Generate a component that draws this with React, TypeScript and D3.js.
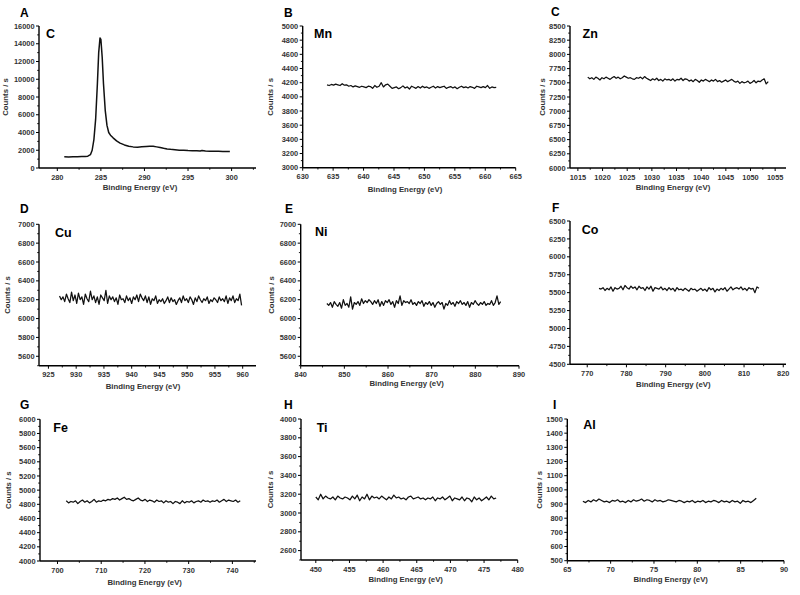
import React from "react";
import * as d3 from "d3";

// ---------- DATA ----------
const panelLetters = ["A", "B", "C", "D", "E", "F", "G", "H", "I"];
const elements = ["C", "Mn", "Zn", "Cu", "Ni", "Co", "Fe", "Ti", "Al"];

// Panel A (C 1s) – explicit energies and counts
const cEnergy = [280.8, 281.3, 281.8, 282.3, 282.8, 283.2, 283.5, 283.8, 284.0, 284.2, 284.4, 284.6, 284.75, 284.9, 285.0, 285.15, 285.3, 285.5, 285.7, 285.9, 286.1, 286.4, 286.8, 287.2, 287.7, 288.2, 288.7, 289.2, 289.7, 290.2, 290.6, 291.0, 291.4, 291.8, 292.2, 292.6, 293.0, 293.5, 294.0, 294.5, 295.0, 295.5, 296.0, 296.4, 296.6, 297.0, 297.5, 298.0, 298.5, 299.0, 299.4, 299.8];
const cCounts = [1260, 1250, 1280, 1270, 1290, 1300, 1330, 1500, 2000, 3200, 5500, 9500, 13000, 14650, 14500, 12500, 9500, 6500, 4800, 4000, 3700, 3400, 3050, 2800, 2600, 2450, 2380, 2350, 2390, 2430, 2460, 2440, 2380, 2300, 2220, 2150, 2100, 2050, 2010, 1990, 1960, 1950, 1930, 1920, 1980, 1910, 1900, 1890, 1880, 1870, 1860, 1850];

// Other panels – counts sampled evenly between the first and last energy
const mnRange = [634, 661.8];
const mnCounts = [4170, 4160, 4175, 4165, 4180, 4170, 4160, 4185, 4165, 4170, 4150, 4160, 4140, 4155, 4145, 4135, 4150, 4140, 4130, 4150, 4145, 4120, 4160, 4135, 4150, 4200, 4140, 4170, 4180, 4150, 4120, 4130, 4140, 4115, 4130, 4155, 4125, 4140, 4110, 4150, 4135, 4120, 4145, 4125, 4150, 4130, 4140, 4120, 4135, 4150, 4125, 4145, 4130, 4140, 4150, 4120, 4135, 4145, 4125, 4140, 4115, 4135, 4150, 4130, 4140, 4125, 4145, 4135, 4120, 4150, 4140, 4130, 4145, 4130, 4160, 4120, 4140, 4130, 4135];

const znRange = [1017, 1053.6];
const znCounts = [7600, 7570, 7590, 7560, 7600, 7580, 7550, 7590, 7570, 7600, 7580, 7560, 7590, 7610, 7580, 7600, 7570, 7590, 7620, 7600, 7580, 7590, 7570, 7560, 7590, 7580, 7600, 7570, 7610, 7580, 7560, 7540, 7570, 7550, 7580, 7540, 7560, 7530, 7570, 7550, 7560, 7540, 7570, 7530, 7560, 7550, 7580, 7540, 7570, 7560, 7530, 7550, 7520, 7560, 7540, 7510, 7550, 7530, 7560, 7540, 7520, 7550, 7530, 7560, 7520, 7540, 7510, 7530, 7550, 7520, 7540, 7560, 7530, 7510, 7530, 7490, 7520, 7500, 7510, 7530, 7490, 7510, 7540, 7500, 7530, 7520, 7550, 7570, 7480, 7520];

const cuRange = [927, 959.8];
const cuCounts = [6240, 6200, 6230, 6180, 6260, 6210, 6170, 6280, 6190, 6250, 6160, 6270, 6200, 6230, 6150, 6260, 6210, 6180, 6290, 6200, 6240, 6170, 6230, 6150, 6250, 6220, 6190, 6300, 6160, 6240, 6200, 6230, 6180, 6220, 6150, 6250, 6200, 6210, 6170, 6240, 6190, 6220, 6160, 6230, 6200, 6250, 6180, 6260, 6220, 6190, 6240, 6170, 6230, 6150, 6210, 6190, 6240, 6160, 6200, 6180, 6210, 6160, 6190, 6230, 6170, 6220, 6180, 6200, 6150, 6190, 6220, 6170, 6240, 6190, 6210, 6170, 6230, 6200, 6150, 6220, 6180, 6240, 6200, 6170, 6210, 6190, 6230, 6160, 6200, 6180, 6220, 6200, 6170, 6230, 6190, 6210, 6180, 6240, 6160, 6220, 6190, 6240, 6170, 6210, 6190, 6260, 6140];

const niRange = [846, 885.8];
const niCounts = [6160, 6140, 6170, 6120, 6180, 6150, 6130, 6170, 6110, 6200, 6140, 6160, 6120, 6230, 6100, 6170, 6150, 6180, 6140, 6210, 6160, 6190, 6170, 6200, 6180, 6150, 6190, 6160, 6200, 6130, 6180, 6140, 6190, 6170, 6200, 6150, 6180, 6120, 6190, 6160, 6240, 6140, 6190, 6170, 6180, 6160, 6200, 6150, 6170, 6140, 6180, 6160, 6190, 6130, 6170, 6150, 6180, 6140, 6170, 6120, 6160, 6180, 6150, 6170, 6100, 6160, 6140, 6190, 6150, 6170, 6130, 6180, 6160, 6190, 6150, 6170, 6140, 6180, 6120, 6170, 6150, 6190, 6160, 6140, 6170, 6150, 6180, 6140, 6160, 6150, 6190, 6140, 6170, 6240, 6150, 6180];

const coRange = [773, 813.8];
const coCounts = [5560, 5550, 5570, 5530, 5560, 5540, 5580, 5520, 5570, 5550, 5560, 5590, 5540, 5600, 5570, 5550, 5590, 5560, 5580, 5540, 5590, 5560, 5570, 5530, 5580, 5550, 5590, 5520, 5570, 5560, 5550, 5580, 5540, 5560, 5530, 5570, 5540, 5560, 5520, 5570, 5540, 5550, 5530, 5560, 5540, 5520, 5560, 5540, 5550, 5520, 5540, 5560, 5530, 5550, 5520, 5570, 5540, 5560, 5510, 5550, 5530, 5560, 5540, 5570, 5520, 5550, 5580, 5540, 5560, 5570, 5550, 5580, 5540, 5560, 5530, 5570, 5550, 5560, 5500, 5580, 5560];

const feRange = [702, 741.8];
const feCounts = [4850, 4820, 4840, 4830, 4850, 4810, 4840, 4860, 4830, 4850, 4820, 4840, 4870, 4830, 4850, 4840, 4860, 4850, 4870, 4860, 4880, 4870, 4890, 4860, 4880, 4900, 4870, 4880, 4860, 4850, 4870, 4890, 4860, 4850, 4870, 4840, 4860, 4850, 4830, 4860, 4840, 4850, 4820, 4850, 4830, 4840, 4810, 4840, 4830, 4810, 4850, 4820, 4840, 4830, 4850, 4820, 4840, 4850, 4830, 4860, 4840, 4850, 4830, 4850, 4840, 4860, 4830, 4850, 4870, 4840, 4860, 4850, 4840, 4860, 4830, 4850];

const tiRange = [450, 476.8];
const tiCounts = [3170, 3140, 3200, 3150, 3180, 3160, 3150, 3170, 3140, 3180, 3160, 3150, 3170, 3160, 3140, 3180, 3150, 3190, 3130, 3170, 3150, 3200, 3140, 3180, 3160, 3170, 3150, 3180, 3160, 3140, 3170, 3150, 3190, 3160, 3170, 3150, 3160, 3140, 3170, 3180, 3150, 3160, 3170, 3150, 3160, 3140, 3160, 3150, 3170, 3130, 3160, 3150, 3170, 3140, 3160, 3180, 3130, 3160, 3150, 3140, 3170, 3130, 3160, 3150, 3120, 3170, 3140, 3160, 3130, 3150, 3170, 3140, 3180, 3150, 3160];

const alRange = [66.8, 86.8];
const alCounts = [920, 910, 925, 915, 930, 920, 935, 925, 915, 920, 910, 925, 920, 930, 915, 920, 910, 925, 915, 930, 920, 925, 935, 920, 930, 925, 915, 930, 920, 925, 915, 920, 930, 925, 920, 915, 925, 920, 910, 920, 915, 925, 910, 920, 915, 925, 910, 920, 915, 925, 920, 910, 925, 915, 920, 910, 925, 915, 920, 905, 925, 915, 920, 910, 925, 940];

// Axis domains and tick settings
const xDomains = [[277.9, 302.8], [630, 665], [1013.4, 1057.2], [923.3, 962.4], [840, 890], [765.6, 820.7], [696, 745.4], [447.8, 480], [65, 90]];
const yDomains = [[0, 16000], [3000, 5000], [6000, 8500], [5500, 7000], [5500, 7000], [4500, 6500], [4000, 6000], [2500, 4000], [500, 1500]];
const xSteps = [5, 5, 5, 5, 10, 10, 10, 5, 5];
const ySteps = [2000, 200, 250, 200, 200, 250, 200, 200, 100];
const yTickStarts = [0, 3000, 6000, 5600, 5600, 4500, 4000, 2600, 500];

// ---------- LAYOUT ----------
type Frame = { l: number; t: number; r: number; b: number; lx: number; ly: number; ex: number; ey: number; ylx: number | null; xlx: number; xly: number };
const frames: Frame[] = [
  { l: 39, t: 26, r: 256, b: 168, lx: 20, ly: 17, ex: 46, ey: 37.5, ylx: 8, xlx: 140, xly: 190 },
  { l: 302.7, t: 26, r: 515.7, b: 167.7, lx: 284, ly: 17, ex: 314, ey: 37.7, ylx: 273, xlx: 405, xly: 192 },
  { l: 570, t: 26, r: 786, b: 168, lx: 551, ly: 16, ex: 582.5, ey: 38, ylx: 544.5, xlx: 673, xly: 190 },
  { l: 39, t: 224.3, r: 256, b: 365.7, lx: 20, ly: 213, ex: 55, ey: 236.5, ylx: 10, xlx: 143, xly: 389 },
  { l: 300.7, t: 224.3, r: 519, b: 365.7, lx: 285, ly: 213, ex: 315, ey: 236, ylx: 274, xlx: 406.7, xly: 386 },
  { l: 570, t: 221, r: 786, b: 364.3, lx: 552, ly: 212, ex: 581.7, ey: 234.3, ylx: null, xlx: 673.3, xly: 387 },
  { l: 40, t: 419.3, r: 256, b: 561, lx: 20, ly: 409, ex: 53.3, ey: 432.3, ylx: 10.5, xlx: 144.7, xly: 585 },
  { l: 301, t: 419, r: 517.7, b: 560, lx: 284, ly: 409, ex: 316.7, ey: 431.7, ylx: 273, xlx: 405.7, xly: 582 },
  { l: 567.3, t: 419, r: 784, b: 560.7, lx: 553, ly: 409, ex: 583.3, ey: 429.3, ylx: 542, xlx: 670.7, xly: 582 },
];

function evenSeries(range: number[], counts: number[]) {
  const n = counts.length;
  return counts.map((c, i) => [range[0] + ((range[1] - range[0]) * i) / (n - 1), c] as [number, number]);
}

const series: [number, number][][] = [
  cEnergy.map((e, i) => [e, cCounts[i]] as [number, number]),
  evenSeries(mnRange, mnCounts),
  evenSeries(znRange, znCounts),
  evenSeries(cuRange, cuCounts),
  evenSeries(niRange, niCounts),
  evenSeries(coRange, coCounts),
  evenSeries(feRange, feCounts),
  evenSeries(tiRange, tiCounts),
  evenSeries(alRange, alCounts),
];

const FONT = "'Liberation Sans', Arial, sans-serif";

function ticksFrom(start: number, end: number, step: number) {
  const out: number[] = [];
  for (let v = start; v <= end + 1e-9; v += step) out.push(+v.toFixed(6));
  return out;
}

function Panel({ i }: { i: number }) {
  const f = frames[i];
  const x = d3.scaleLinear().domain(xDomains[i]).range([f.l, f.r]);
  const y = d3.scaleLinear().domain(yDomains[i]).range([f.b, f.t]);
  const xs = xSteps[i];
  const ys = ySteps[i];
  const firstX = Math.ceil(xDomains[i][0] / xs) * xs;
  const xMajor = ticksFrom(firstX, xDomains[i][1], xs);
  const xMinor = ticksFrom(Math.ceil(xDomains[i][0] / (xs / 2)) * (xs / 2), xDomains[i][1], xs / 2).filter((v) => !xMajor.includes(v));
  const yMajor = ticksFrom(yTickStarts[i], yDomains[i][1], ys);
  const yMinor = ticksFrom(yDomains[i][0], yDomains[i][1], ys / 2).filter((v) => !yMajor.includes(v));
  const line = d3
    .line<[number, number]>()
    .x((d) => x(d[0]))
    .y((d) => y(d[1]));
  return (
    <g>
      <path d={line(series[i]) || ""} fill="none" stroke="#111" strokeWidth={i === 0 ? 1.5 : 1.25} strokeLinejoin="round" />
      {/* axes */}
      <line x1={f.l} x2={f.l} y1={f.t} y2={f.b} stroke="#000" strokeWidth={1.4} />
      <line x1={f.l} x2={f.r} y1={f.b} y2={f.b} stroke="#000" strokeWidth={1.4} />
      {yMajor.map((v) => (
        <g key={"ym" + v}>
          <line x1={f.l - 3} x2={f.l} y1={y(v)} y2={y(v)} stroke="#000" strokeWidth={1} />
          <text x={f.l - 4.5} y={y(v) + 2.6} fontSize={7.4} fontWeight="bold" fill="#333" textAnchor="end" fontFamily={FONT}>
            {v}
          </text>
        </g>
      ))}
      {yMinor.map((v) => (
        <line key={"yn" + v} x1={f.l - 1.8} x2={f.l} y1={y(v)} y2={y(v)} stroke="#000" strokeWidth={0.9} />
      ))}
      {xMajor.map((v) => (
        <g key={"xm" + v}>
          <line x1={x(v)} x2={x(v)} y1={f.b} y2={f.b + 3} stroke="#000" strokeWidth={1} />
          <text x={x(v)} y={f.b + 11.5} fontSize={7.4} fontWeight="bold" fill="#333" textAnchor="middle" fontFamily={FONT}>
            {v}
          </text>
        </g>
      ))}
      {xMinor.map((v) => (
        <line key={"xn" + v} x1={x(v)} x2={x(v)} y1={f.b} y2={f.b + 1.8} stroke="#000" strokeWidth={0.9} />
      ))}
      {/* labels */}
      <text x={f.lx} y={f.ly} fontSize={12} fontWeight="bold" fill="#000" fontFamily={FONT}>
        {panelLetters[i]}
      </text>
      <text x={f.ex} y={f.ey} fontSize={12.5} fontWeight="bold" fill="#000" fontFamily={FONT}>
        {elements[i]}
      </text>
      {f.ylx !== null && (
        <text
          transform={`translate(${f.ylx},${(f.t + f.b) / 2}) rotate(-90)`}
          fontSize={7.8}
          fontWeight="bold"
          fill="#333"
          textAnchor="middle"
          fontFamily={FONT}
        >
          Counts / s
        </text>
      )}
      <text x={f.xlx} y={f.xly} fontSize={7.8} fontWeight="bold" fill="#333" textAnchor="middle" fontFamily={FONT}>
        Binding Energy (eV)
      </text>
    </g>
  );
}

export default function App() {
  return (
    <svg
      width={800}
      height={595}
      viewBox="0 0 800 595"
      style={{ position: "absolute", left: 0, top: 0, background: "#fff" }}
    >
      <rect x={0} y={0} width={800} height={595} fill="#fff" />
      {panelLetters.map((_, i) => (
        <Panel key={i} i={i} />
      ))}
    </svg>
  );
}
